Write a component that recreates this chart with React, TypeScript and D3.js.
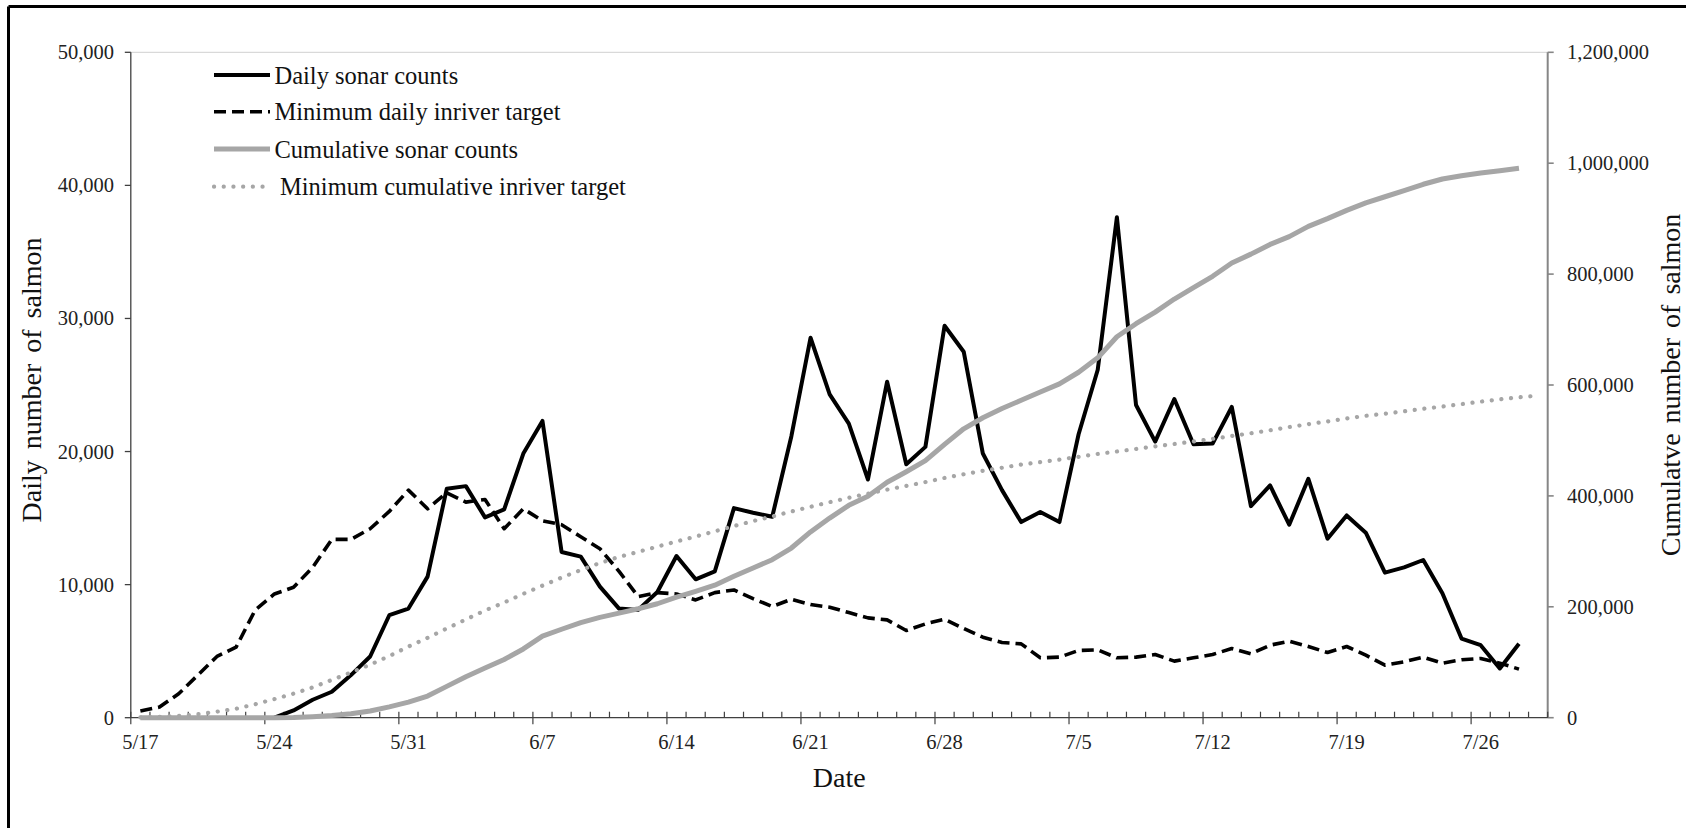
import React from "react";
import * as d3 from "d3";

// Season runs 5/17 .. 7/29 (74 days); each value sits at the middle of its day.
const dayCount = 74;
const dateLabels = ["5/17", "5/24", "5/31", "6/7", "6/14", "6/21", "6/28", "7/5", "7/12", "7/19", "7/26"];

// Daily sonar counts, 5/17 .. 7/28 (counting starts 5/24)
const dailySonar: (number | null)[] = [
  null, null, null, null, null, null, null, 0, 550, 1350,
  1950, 3200, 4600, 7700, 8200, 10600, 17200, 17400, 15050, 15650,
  19850, 22300, 12450, 12100, 9850, 8200, 8100, 9450, 12150, 10400,
  11000, 15750, 15400, 15100, 21150, 28550, 24300, 22100, 17900, 25250,
  19050, 20350, 29450, 27500, 19850, 17100, 14700, 15450, 14700, 21300,
  26150, 37600, 23500, 20750, 23950, 20550, 20600, 23350, 15900, 17450,
  14500, 17950, 13450, 15200, 13900, 10900, 11300, 11850, 9350, 5950,
  5450, 3700, 5550,
];

// Minimum daily inriver target, 5/17 .. 7/28
const dailyTarget: number[] = [
  500, 800, 1800, 3200, 4600, 5300, 8100, 9300, 9800, 11300,
  13400, 13400, 14200, 15500, 17100, 15700, 16900, 16200, 16400, 14200,
  15700, 14800, 14500, 13600, 12700, 11000, 9100, 9400, 9300, 8850,
  9400, 9600, 8950, 8350, 8900, 8500, 8300, 7900, 7500, 7350,
  6550, 7050, 7400, 6700, 6050, 5650, 5550, 4500, 4550, 5050,
  5100, 4500, 4550, 4750, 4250, 4500, 4750, 5200, 4800, 5450,
  5750, 5350, 4900, 5350, 4700, 3950, 4200, 4550, 4100, 4350,
  4450, 4100, 3650,
];

// Cumulative sonar counts, 5/17 .. 7/28
const cumulativeSonar: number[] = [
  0, 0, 0, 0, 0, 0, 0, 0, 550, 1900,
  3850, 7050, 12000, 19500, 28000, 39000, 56500, 74000, 89500, 105000,
  124000, 147000, 159500, 171500, 181000, 188500, 196500, 205500, 217500, 228000,
  239000, 255000, 270000, 285000, 306000, 335000, 360000, 383000, 399500, 424500,
  443500, 463500, 493000, 521000, 541000, 557500, 572500, 587500, 602000, 623000,
  649000, 687000, 710500, 731500, 755000, 775500, 796000, 820000, 836000, 853500,
  867500, 886000, 900000, 915000, 928500, 939500, 950500, 962000, 971500, 977500,
  982500, 986500, 991000,
];

// Minimum cumulative inriver target, 5/17 .. 7/29
const cumulativeTarget: number[] = [
  500, 1300, 3100, 6300, 10900, 16200, 24300, 33600, 43400, 54700,
  68100, 81500, 95700, 111200, 128300, 144000, 160900, 177100, 193500, 207700,
  223400, 238200, 252700, 266300, 279000, 290000, 299100, 308500, 317800, 326700,
  336100, 345700, 354600, 363000, 371900, 380400, 388700, 396600, 404100, 411400,
  418000, 425000, 432400, 439100, 445200, 450800, 456400, 460900, 465400, 470500,
  475600, 480100, 484600, 489400, 493600, 498100, 502900, 508100, 512900, 518300,
  524100, 529400, 534300, 539700, 544400, 548300, 552500, 557100, 561200, 565500,
  570000, 574100, 577700, 581000,
];

const leftTicks = [0, 10000, 20000, 30000, 40000, 50000];
const rightTicks = [0, 200000, 400000, 600000, 800000, 1000000, 1200000];

const legendItems = [
  { label: "Daily sonar counts", kind: "daily" },
  { label: "Minimum daily inriver target", kind: "dailyTarget" },
  { label: "Cumulative sonar counts", kind: "cum" },
  { label: "Minimum cumulative inriver target", kind: "cumTarget" },
];

const FONT = '"Liberation Serif", "Times New Roman", serif';
const GRAY = "#a6a6a6";
const AXIS = "#404040";

const styles: Record<string, any> = {
  daily: { stroke: "#000", strokeWidth: 4, fill: "none", strokeLinejoin: "round" },
  dailyTarget: { stroke: "#000", strokeWidth: 3.6, fill: "none", strokeDasharray: "12 6", strokeLinejoin: "round" },
  cum: { stroke: GRAY, strokeWidth: 5, fill: "none", strokeLinejoin: "round" },
  cumTarget: { stroke: GRAY, strokeWidth: 4.2, fill: "none", strokeDasharray: "0.1 9.6", strokeLinecap: "round" },
};

export default function App() {
  const W = 1686;
  const H = 828;
  const plot = { left: 130.8, right: 1547.7, top: 52.3, bottom: 717.7 };

  const x = d3.scaleLinear().domain([0, dayCount]).range([plot.left, plot.right]);
  const yL = d3.scaleLinear().domain([0, 50000]).range([plot.bottom, plot.top]);
  const yR = d3.scaleLinear().domain([0, 1200000]).range([plot.bottom, plot.top]);
  const fmt = d3.format(",");

  const lineLeft = d3
    .line<number | null>()
    .defined((d) => d != null)
    .x((_, i) => x(i + 0.5))
    .y((d) => yL(d as number));
  const lineRight = d3
    .line<number>()
    .x((_, i) => x(i + 0.5))
    .y((d) => yR(d));

  const dayTicks = d3.range(0, dayCount + 1);
  const legendX0 = 214;
  const legendX1 = 270;
  const legendRows = [75, 111.7, 149, 186.7];

  return (
    <div style={{ position: "absolute", left: 0, top: 0 }}>
      <svg width={W} height={H} viewBox={`0 0 ${W} ${H}`} style={{ display: "block", background: "#fff" }}>
        <rect x={0} y={0} width={W} height={H} fill="#fff" />
        {/* outer frame (left and top edges) */}
        <line x1={8.5} y1={6.5} x2={W} y2={6.5} stroke="#000" strokeWidth={3} />
        <line x1={8.5} y1={6.5} x2={8.5} y2={H} stroke="#000" strokeWidth={3} />

        {/* plot top border */}
        <line x1={plot.left} y1={plot.top} x2={plot.right} y2={plot.top} stroke="#d9d9d9" strokeWidth={1.2} />

        {/* left axis */}
        <line x1={plot.left} y1={plot.top} x2={plot.left} y2={plot.bottom} stroke={AXIS} strokeWidth={1.3} />
        {leftTicks.map((t) => (
          <g key={"l" + t}>
            <line x1={plot.left - 6} x2={plot.left} y1={yL(t)} y2={yL(t)} stroke={AXIS} strokeWidth={1.3} />
            <text x={114} y={yL(t)} textAnchor="end" dominantBaseline="central" fontFamily={FONT} fontSize={20.5} fill="#222">
              {fmt(t)}
            </text>
          </g>
        ))}

        {/* right axis */}
        <line x1={plot.right} y1={plot.top} x2={plot.right} y2={plot.bottom} stroke="#868686" strokeWidth={2} />
        {rightTicks.map((t) => (
          <g key={"r" + t}>
            <line x1={plot.right} x2={plot.right + 6} y1={yR(t)} y2={yR(t)} stroke="#868686" strokeWidth={1.6} />
            <text x={1567} y={yR(t)} textAnchor="start" dominantBaseline="central" fontFamily={FONT} fontSize={20.5} fill="#222">
              {fmt(t)}
            </text>
          </g>
        ))}

        {/* date axis */}
        <line x1={plot.left} y1={plot.bottom} x2={plot.right} y2={plot.bottom} stroke={AXIS} strokeWidth={1.3} />
        {dayTicks.map((d) => {
          const major = d % 7 === 0;
          return (
            <line
              key={"d" + d}
              x1={x(d)}
              x2={x(d)}
              y1={plot.bottom - 6}
              y2={major ? plot.bottom + 6.5 : plot.bottom}
              stroke={AXIS}
              strokeWidth={1.2}
            />
          );
        })}
        {dateLabels.map((lab, i) => (
          <text
            key={lab}
            x={x(i * 7 + 0.5)}
            y={742}
            textAnchor="middle"
            dominantBaseline="central"
            fontFamily={FONT}
            fontSize={20.5}
            fill="#222"
          >
            {lab}
          </text>
        ))}

        {/* axis titles */}
        <text x={(plot.left + plot.right) / 2} y={777} textAnchor="middle" dominantBaseline="central" fontFamily={FONT} fontSize={28} fill="#111">
          Date
        </text>
        <text
          transform={`translate(41, 380) rotate(-90)`}
          textAnchor="middle"
          fontFamily={FONT}
          fontSize={28}
          wordSpacing={4}
          fill="#111"
        >
          Daily number of salmon
        </text>
        <text
          transform={`translate(1680, 385) rotate(-90)`}
          textAnchor="middle"
          fontFamily={FONT}
          fontSize={28}
          wordSpacing={3}
          fill="#111"
        >
          Cumulatve number of salmon
        </text>

        {/* series: primary axis first, secondary axis on top */}
        <path d={lineLeft(dailyTarget) || ""} {...styles.dailyTarget} />
        <path d={lineLeft(dailySonar) || ""} {...styles.daily} />
        <path d={lineRight(cumulativeSonar) || ""} {...styles.cum} />
        <path d={lineRight(cumulativeTarget) || ""} {...styles.cumTarget} />

        {/* legend */}
        {legendItems.map((item, i) => (
          <g key={item.kind}>
            <line x1={legendX0} x2={legendX1} y1={legendRows[i]} y2={legendRows[i]} {...styles[item.kind]} />
            <text
              x={item.kind === "cumTarget" ? 280 : 274.5}
              y={legendRows[i]}
              dominantBaseline="central"
              fontFamily={FONT}
              fontSize={24.5}
              fill="#111"
            >
              {item.label}
            </text>
          </g>
        ))}
      </svg>
    </div>
  );
}
